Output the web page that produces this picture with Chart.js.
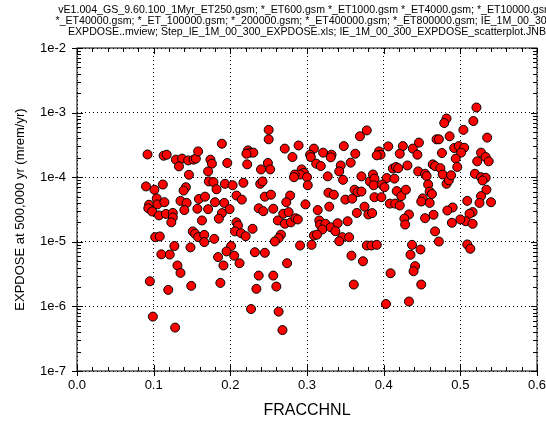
<!DOCTYPE html>
<html>
<head>
<meta charset="utf-8">
<script src="https://cdn.jsdelivr.net/npm/chart.js@4/dist/chart.umd.min.js"></script>
<style>
  html, body { margin: 0; padding: 0; background: #fff; }
  #wrap { width: 546px; height: 431px; position: relative; }
</style>
</head>
<body>
<div id="wrap"><canvas id="scatter"></canvas></div>
<script>
// header lines (file list of the run)
const titleLines = [
    'vE1.004_GS_9.60.100_1Myr_ET250.gsm; *_ET600.gsm *_ET1000.gsm *_ET4000.gsm; *_ET10000.gsm;',
    '*_ET40000.gsm; *_ET_100000.gsm; *_200000.gsm; *_ET400000.gsm; *_ET800000.gsm; IE_1M_00_300_',
    'EXPDOSE..mview; Step_IE_1M_00_300_EXPDOSE.xls; IE_1M_00_300_EXPDOSE_scatterplot.JNB'
];

const xTitle = 'FRACCHNL';
const yTitle = 'EXPDOSE at 500,000 yr (mrem/yr)';

const yDecades = [1e-7, 1e-6, 1e-5, 1e-4, 1e-3, 1e-2];

// sampled realizations: FRACCHNL vs EXPDOSE
const fracchnl = [
    0.092, 0.113, 0.117, 0.129, 0.137, 0.145, 0.152, 0.155, 0.158, 0.133, 0.146, 0.090,
    0.101, 0.112, 0.142, 0.139, 0.104, 0.094, 0.093, 0.098, 0.105, 0.114, 0.135, 0.143,
    0.157, 0.159, 0.140, 0.107, 0.116, 0.125, 0.125, 0.123, 0.151, 0.154, 0.158, 0.102,
    0.108, 0.127, 0.148, 0.110, 0.121, 0.131, 0.135, 0.095, 0.119, 0.149, 0.099, 0.128,

    0.189, 0.174, 0.176, 0.196, 0.223, 0.226, 0.230, 0.221, 0.222, 0.171, 0.172, 0.178,
    0.182, 0.193, 0.203, 0.217, 0.208, 0.215, 0.167, 0.171, 0.180, 0.192, 0.189, 0.199,
    0.185, 0.163, 0.208, 0.210, 0.206, 0.214, 0.220, 0.229, 0.166, 0.166, 0.179, 0.201,
    0.195, 0.205, 0.184, 0.191, 0.212, 0.187, 0.227,

    0.250, 0.250, 0.271, 0.289, 0.281, 0.309, 0.304, 0.305, 0.249, 0.240, 0.252, 0.293,
    0.296, 0.291, 0.284, 0.283, 0.300, 0.301, 0.239, 0.242, 0.245, 0.253, 0.278, 0.273,
    0.237, 0.243, 0.256, 0.298, 0.269, 0.276, 0.262, 0.271, 0.279, 0.285, 0.288, 0.266,
    0.263, 0.258, 0.309, 0.306, 0.291, 0.232, 0.245, 0.274, 0.237, 0.256, 0.260, 0.234,
    0.263, 0.268,

    0.378, 0.369, 0.348, 0.363, 0.321, 0.332, 0.331, 0.312, 0.318, 0.344, 0.342, 0.357,
    0.327, 0.347, 0.371, 0.382, 0.386, 0.328, 0.335, 0.362, 0.366, 0.371, 0.350, 0.359,
    0.388, 0.329, 0.314, 0.365, 0.375, 0.380, 0.385, 0.316, 0.317, 0.324, 0.320, 0.331,
    0.340, 0.337, 0.313, 0.353, 0.346, 0.355, 0.342, 0.378, 0.384, 0.358, 0.373, 0.361,

    0.406, 0.425, 0.446, 0.469, 0.421, 0.438, 0.444, 0.394, 0.396, 0.391, 0.412, 0.416,
    0.419, 0.431, 0.445, 0.454, 0.456, 0.464, 0.467, 0.388, 0.387, 0.404, 0.414, 0.398,
    0.401, 0.417, 0.423, 0.429, 0.458, 0.460, 0.463, 0.451, 0.449, 0.460, 0.397, 0.408,
    0.415, 0.421, 0.433, 0.427, 0.428, 0.454, 0.465, 0.467, 0.391, 0.437, 0.448, 0.435,
    0.441, 0.439, 0.409, 0.449, 0.403, 0.433,

    0.521, 0.482, 0.479, 0.517, 0.504, 0.535, 0.486, 0.472, 0.492, 0.498, 0.505, 0.501,
    0.476, 0.494, 0.496, 0.474, 0.477, 0.482, 0.485, 0.488, 0.522, 0.527, 0.533, 0.537,
    0.519, 0.527, 0.533, 0.529, 0.534, 0.527, 0.525, 0.540, 0.509, 0.490, 0.483, 0.516,
    0.512, 0.507, 0.516, 0.500, 0.489, 0.472, 0.509, 0.513
];

const expdose = [
    2.25e-4, 2.15e-4, 2.23e-4, 1.87e-4, 1.94e-4, 1.82e-4, 1.87e-4, 1.94e-4, 2.51e-4, 1.47e-4, 1.09e-4, 7.2e-5,
    6.4e-5, 7.7e-5, 7.0e-5, 6.2e-5, 4.7e-5, 3.75e-5, 3.3e-5, 2.95e-5, 3.8e-5, 4.1e-5, 4.3e-5, 4.0e-5,
    3.25e-5, 4.6e-5, 3.1e-5, 2.56e-5, 2.7e-5, 2.8e-5, 2.38e-5, 2.0e-5, 1.45e-5, 1.33e-5, 1.18e-5, 1.18e-5,
    1.21e-5, 8.6e-6, 8.2e-6, 6.4e-6, 6.35e-6, 4.3e-6, 3.3e-6, 2.45e-6, 1.8e-6, 2.08e-6, 6.95e-7, 4.7e-7,

    3.3e-4, 1.87e-4, 1.62e-4, 1.66e-4, 2.6e-4, 2.4e-4, 2.4e-4, 2.31e-4, 1.58e-4, 1.23e-4, 8.6e-5, 8.4e-5,
    6.5e-5, 7.9e-5, 7.5e-5, 8.2e-5, 5.2e-5, 4.5e-5, 5.0e-5, 3.2e-5, 4.1e-5, 4.0e-5, 2.78e-5, 3.2e-5,
    2.28e-5, 2.14e-5, 2.0e-5, 1.79e-5, 1.45e-5, 1.36e-5, 1.22e-5, 1.59e-5, 1.28e-5, 9.9e-6, 1.11e-5, 8.6e-6,
    7.1e-6, 6.1e-6, 5.8e-6, 4.3e-6, 4.66e-6, 2.31e-6, 9.1e-7,

    5.4e-4, 3.86e-4, 2.77e-4, 3.1e-4, 2.05e-4, 2.77e-4, 2.23e-4, 2.05e-4, 1.66e-4, 1.32e-4, 1.32e-4, 1.32e-4,
    1.17e-4, 1.1e-4, 1.1e-4, 1.0e-4, 1.0e-4, 7.5e-5, 7.9e-5, 8.6e-5, 5.0e-5, 5.36e-5, 5.2e-5, 4.1e-5,
    3.3e-5, 2.98e-5, 3.25e-5, 3.8e-5, 2.72e-5, 2.88e-5, 2.14e-5, 1.9e-5, 2.0e-5, 2.32e-5, 2.22e-5, 1.29e-5,
    1.14e-5, 1.01e-5, 1.25e-5, 8.97e-6, 8.77e-6, 6.9e-6, 6.75e-6, 4.66e-6, 3.0e-6, 3.0e-6, 2.03e-6, 1.87e-6,
    8.3e-7, 4.3e-7,

    5.3e-4, 4.3e-4, 3.03e-4, 2.31e-4, 2.4e-4, 2.23e-4, 2.03e-4, 1.62e-4, 1.49e-4, 1.52e-4, 1.23e-4, 1.68e-4,
    1.03e-4, 9.1e-5, 1.03e-4, 8.6e-5, 1.1e-4, 5.75e-5, 5.36e-5, 6.4e-5, 5.87e-5, 6.0e-5, 4.5e-5, 4.65e-5,
    4.9e-5, 3.5e-5, 3.1e-5, 2.8e-5, 3.5e-5, 2.65e-5, 2.78e-5, 2.14e-5, 1.84e-5, 1.9e-5, 1.55e-5, 1.68e-5,
    1.94e-5, 1.46e-5, 1.29e-5, 2.08e-5, 1.18e-5, 1.18e-5, 1.02e-5, 8.77e-6, 8.77e-6, 6.1e-6, 5.0e-6, 2.18e-6,

    3.0e-4, 3.03e-4, 3.43e-4, 3.86e-4, 2.31e-4, 2.77e-4, 2.23e-4, 2.51e-4, 2.23e-4, 2.18e-4, 1.36e-4, 1.44e-4,
    1.38e-4, 1.52e-4, 1.23e-4, 1.13e-4, 1.04e-4, 1.58e-4, 1.49e-4, 9.5e-5, 7.5e-5, 9.7e-5, 9.5e-5, 7.7e-5,
    7.0e-5, 6.1e-5, 5.1e-5, 6.4e-5, 7.7e-5, 6.0e-5, 5.5e-5, 4.7e-5, 4.2e-5, 4.0e-5, 4.9e-5, 3.9e-5,
    3.9e-5, 3.65e-5, 2.65e-5, 2.28e-5, 1.85e-5, 2.32e-5, 2.62e-5, 1.45e-5, 8.97e-6, 8.97e-6, 7.6e-6, 6.3e-6,
    4.2e-6, 3.5e-6, 3.26e-6, 2.18e-6, 1.09e-6, 1.19e-6,

    1.2e-3, 8.1e-4, 6.9e-4, 7.4e-4, 5.4e-4, 4.1e-4, 4.3e-4, 3.86e-4, 2.83e-4, 3.03e-4, 2.86e-4, 2.4e-4,
    2.37e-4, 1.94e-4, 1.44e-4, 1.38e-4, 1.1e-4, 7.9e-5, 8.95e-5, 1.07e-4, 1.76e-4, 2.4e-4, 2.05e-4, 1.76e-4,
    1.13e-4, 1.0e-4, 9.8e-5, 8.9e-5, 6.4e-5, 5.1e-5, 4.0e-5, 4.1e-5, 4.3e-5, 3.4e-5, 3.05e-5, 2.88e-5,
    2.72e-5, 2.08e-5, 1.9e-5, 2.22e-5, 1.97e-5, 1.01e-5, 9.1e-6, 7.8e-6
];

const FONT = 'Arial, "Liberation Sans", sans-serif';

// three-line header centred over the plot box
const headerPlugin = {
    id: 'header',
    afterDraw(chart) {
        const { ctx, chartArea } = chart;
        const cx = (chartArea.left + chartArea.right) / 2;
        ctx.save();
        ctx.fillStyle = '#000';
        ctx.font = '10.6px ' + FONT;
        ctx.textAlign = 'center';
        ctx.textBaseline = 'middle';
        titleLines.forEach((t, i) => ctx.fillText(t, cx, 10 + i * 11));
        ctx.restore();
    }
};

// closed box with tick marks on all four sides
const framePlugin = {
    id: 'frame',
    beforeDatasetsDraw(chart) {
        const { ctx, chartArea: a, scales: { x, y } } = chart;
        ctx.save();
        ctx.strokeStyle = '#000';
        ctx.lineWidth = 1;
        ctx.setLineDash([]);
        ctx.strokeRect(a.left, a.top, a.right - a.left, a.bottom - a.top);

        ctx.beginPath();
        for (let i = 0; i <= 30; i++) {
            const px = Math.round(x.getPixelForValue(i * 0.02)) + 0.5;
            const major = i % 5 === 0;
            const len = major ? 6 : 4;
            ctx.moveTo(px, a.bottom + (major ? 5 : 0));
            ctx.lineTo(px, a.bottom - len);
            ctx.moveTo(px, a.top);
            ctx.lineTo(px, a.top + len);
        }
        for (let e = -7; e <= -2; e++) {
            for (let m = 1; m <= 9; m++) {
                if (e === -2 && m > 1) break;
                const py = Math.round(y.getPixelForValue(m * Math.pow(10, e))) + 0.5;
                const major = m === 1;
                const len = major ? 6 : 4;
                ctx.moveTo(a.left - (major ? 5 : 0), py);
                ctx.lineTo(a.left + len, py);
                ctx.moveTo(a.right, py);
                ctx.lineTo(a.right - len, py);
            }
        }
        ctx.stroke();
        ctx.restore();
    }
};

new Chart(document.getElementById('scatter'), {
    type: 'scatter',
    data: {
        datasets: [{
            data: fracchnl.map((v, i) => ({ x: v, y: expdose[i] })),
            backgroundColor: '#ff0000',
            borderColor: '#000',
            borderWidth: 1,
            pointRadius: 4.5,
            pointHoverRadius: 4.5
        }]
    },
    options: {
        responsive: true,
        maintainAspectRatio: false,
        animation: false,
        layout: { padding: { top: 48, right: 9, bottom: 0, left: 0 } },
        plugins: {
            legend: { display: false },
            tooltip: { enabled: false }
        },
        scales: {
            x: {
                type: 'linear',
                min: 0,
                max: 0.6,
                afterFit(s) { s.height = 60; s.paddingLeft = 0; s.paddingRight = 0; },
                ticks: {
                    stepSize: 0.1,
                    padding: 7,
                    color: '#000',
                    font: { family: FONT, size: 13 },
                    maxRotation: 0,
                    callback: v => Number(v).toFixed(1)
                },
                grid: { color: '#000', lineWidth: 1, drawTicks: false },
                border: { display: false, dash: [1, 3] },
                title: {
                    display: true,
                    text: xTitle,
                    color: '#000',
                    font: { family: FONT, size: 16 },
                    padding: { top: 0, bottom: 11 }
                }
            },
            y: {
                type: 'logarithmic',
                min: 1e-7,
                max: 1e-2,
                afterBuildTicks(s) { s.ticks = yDecades.map(v => ({ value: v })); },
                afterFit(s) { s.width = 77; s.paddingTop = 0; s.paddingBottom = 0; },
                ticks: {
                    padding: 11,
                    color: '#000',
                    font: { family: FONT, size: 13 },
                    callback: v => '1e' + Math.round(Math.log10(v))
                },
                grid: { color: '#000', lineWidth: 1, drawTicks: false },
                border: { display: false, dash: [1, 3] },
                title: {
                    display: true,
                    text: yTitle,
                    color: '#000',
                    font: { family: FONT, size: 13 },
                    padding: { top: 13, bottom: 0 }
                }
            }
        }
    },
    plugins: [headerPlugin, framePlugin]
});
</script>
</body>
</html>
